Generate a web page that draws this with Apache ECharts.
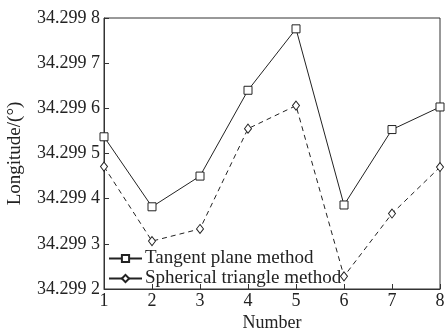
<!DOCTYPE html>
<html><head><meta charset="utf-8">
<script src="https://cdn.jsdelivr.net/npm/echarts@6/dist/echarts.min.js"></script>
<style>html,body{margin:0;padding:0;background:#fff}#c{width:445px;height:331px}</style>
</head><body><div id="c"></div>
<script>
const numbers = [1, 2, 3, 4, 5, 6, 7, 8];
const tangentPlane = [34.299537, 34.299382, 34.299450, 34.299640, 34.299776, 34.299386, 34.299553, 34.299603];
const sphericalTriangle = [34.299471, 34.299306, 34.299333, 34.299555, 34.299606, 34.299228, 34.299367, 34.299470];
const seriesNames = ['Tangent plane method', 'Spherical triangle method'];

const font = 'Liberation Serif';
const chart = echarts.init(document.getElementById('c'));
chart.setOption({
  animation: false,
  grid: { left: 104, right: 5, top: 18, bottom: 42, show: true, borderColor: '#333', borderWidth: 1,
          containLabel: false, outerBoundsMode: 'none' },
  legend: {
    left: 103, top: 244, orient: 'vertical', itemGap: 1, itemWidth: 33, itemHeight: 9,
    lineStyle: { type: 'solid' },
    textStyle: { fontFamily: font, fontSize: 19, color: '#222', padding: [0, 0, 0, -2] },
    data: seriesNames
  },
  xAxis: {
    type: 'value', min: 1, max: 8, interval: 1,
    name: 'Number', nameLocation: 'middle', nameGap: 25, nameMoveOverlap: false,
    nameTextStyle: { fontFamily: font, fontSize: 18, color: '#222' },
    axisLine: { lineStyle: { color: '#333' } },
    axisTick: { inside: true, length: 5, lineStyle: { color: '#333' } },
    axisLabel: { fontFamily: font, fontSize: 18, color: '#222', margin: 3 },
    splitLine: { show: false }
  },
  yAxis: {
    type: 'value', min: 34.2992, max: 34.2998, interval: 0.0001,
    name: 'Longitude/(°)', nameLocation: 'middle', nameGap: 79, nameMoveOverlap: false,
    nameTextStyle: { fontFamily: font, fontSize: 19, color: '#222' },
    axisLine: { lineStyle: { color: '#333' } },
    axisTick: { inside: true, length: 5, lineStyle: { color: '#333' } },
    axisLabel: { fontFamily: font, fontSize: 18, color: '#222', margin: 4,
      formatter: v => { const s = v.toFixed(4); return s.slice(0, 6) + ' ' + s.slice(6); } },
    splitLine: { show: false }
  },
  series: [
    {
      name: seriesNames[0], type: 'line',
      data: numbers.map((x, i) => [x, tangentPlane[i]]),
      symbol: 'rect', symbolSize: 8,
      lineStyle: { color: '#222', width: 1 },
      itemStyle: { color: '#fff', borderColor: '#222', borderWidth: 1 }
    },
    {
      name: seriesNames[1], type: 'line',
      data: numbers.map((x, i) => [x, sphericalTriangle[i]]),
      symbol: 'diamond', symbolSize: [7, 9],
      lineStyle: { color: '#222', width: 1, type: [5, 4] },
      itemStyle: { color: '#fff', borderColor: '#222', borderWidth: 1 }
    }
  ]
});
</script></body></html>
